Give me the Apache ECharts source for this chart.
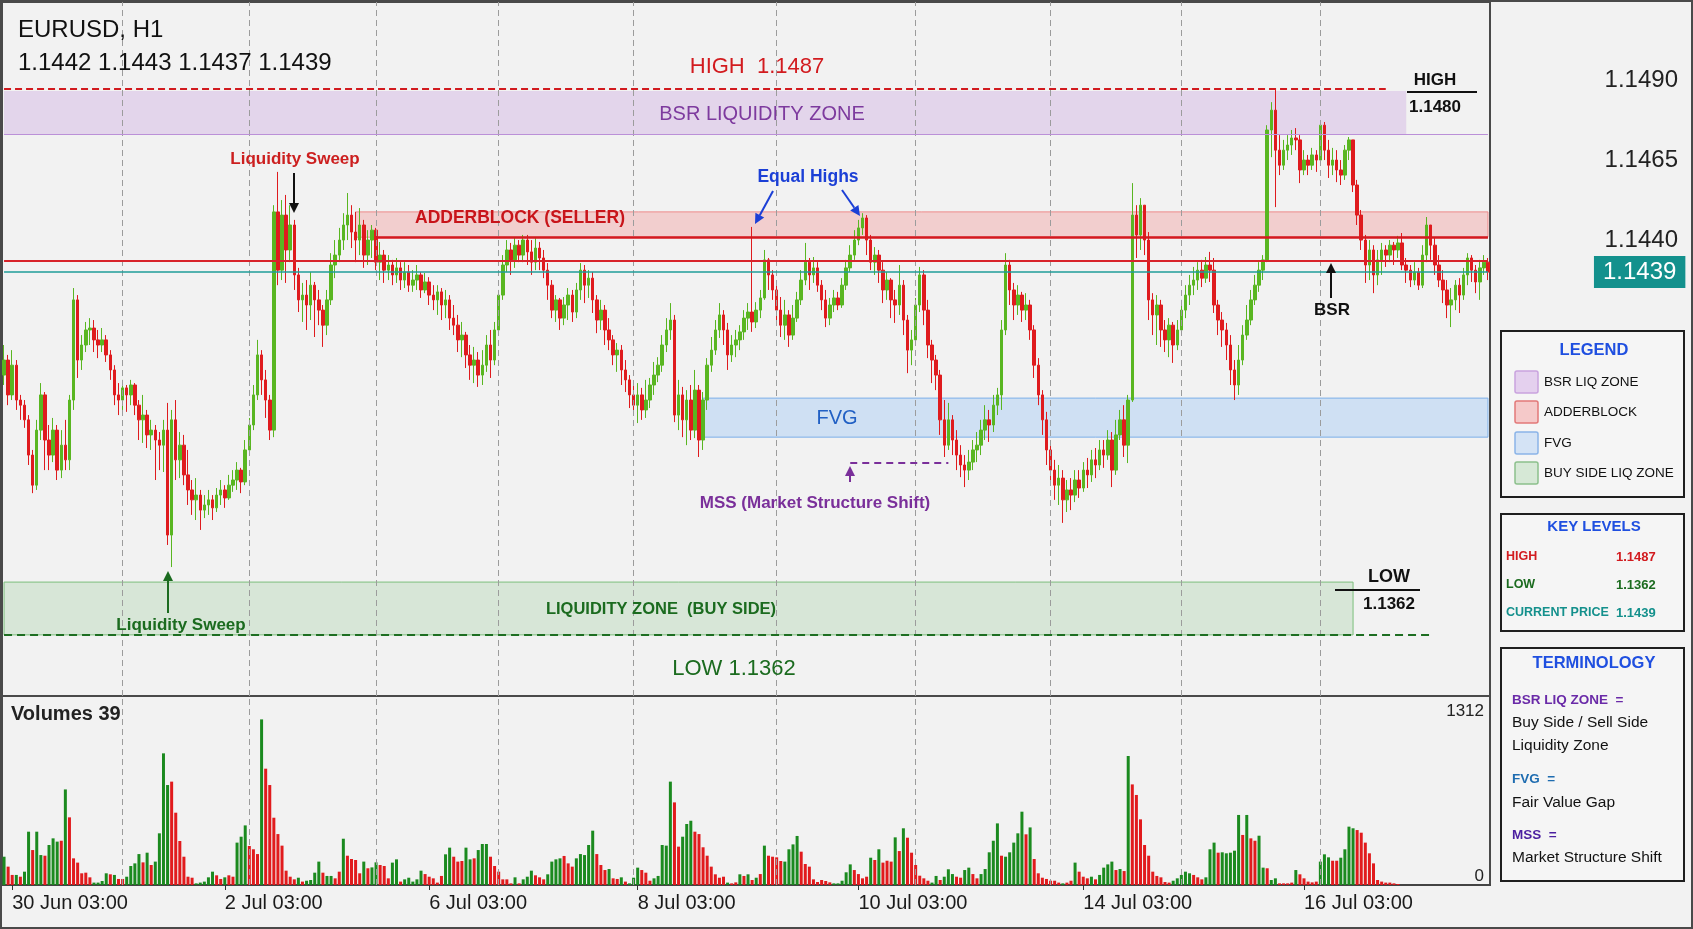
<!DOCTYPE html>
<html>
<head>
<meta charset="utf-8">
<title>EURUSD, H1</title>
<script src="https://cdn.jsdelivr.net/npm/echarts@6/dist/echarts.min.js"></script>
<style>
  html, body { margin: 0; padding: 0; background: #f2f2f2; }
  #chart { width: 1693px; height: 929px; }
</style>
</head>
<body>
<div id="chart"></div>
<script>
// H1 bars (price units), open = previous close
const firstOpen = 1.13978
const closes = [
  1.14025, 1.13916, 1.14009, 1.13900, 1.13884, 1.13838, 1.13728, 1.13634, 1.13806, 1.13916,
  1.13775, 1.13728, 1.13806, 1.13681, 1.13759, 1.13713, 1.13900, 1.14213, 1.14025, 1.14072,
  1.14119, 1.14125, 1.14088, 1.14072, 1.14088, 1.14041, 1.13994, 1.13916, 1.13900, 1.13938,
  1.13916, 1.13947, 1.13884, 1.13838, 1.13853, 1.13791, 1.13806, 1.13775, 1.13759, 1.13806,
  1.13478, 1.13838, 1.13713, 1.13759, 1.13666, 1.13619, 1.13588, 1.13603, 1.13556, 1.13572,
  1.13588, 1.13563, 1.13603, 1.13619, 1.13594, 1.13634, 1.13650, 1.13681, 1.13644, 1.13744,
  1.13822, 1.13916, 1.14041, 1.13963, 1.13900, 1.13806, 1.14488, 1.14306, 1.14478, 1.14369,
  1.14447, 1.14291, 1.14213, 1.14228, 1.14197, 1.14259, 1.14213, 1.14181, 1.14134, 1.14213,
  1.14322, 1.14353, 1.14400, 1.14447, 1.14478, 1.14425, 1.14400, 1.14447, 1.14353, 1.14400,
  1.14431, 1.14331, 1.14353, 1.14306, 1.14322, 1.14291, 1.14313, 1.14275, 1.14300, 1.14259,
  1.14275, 1.14291, 1.14244, 1.14269, 1.14228, 1.14213, 1.14238, 1.14197, 1.14213, 1.14156,
  1.14134, 1.14088, 1.14103, 1.14041, 1.14009, 1.14025, 1.13978, 1.14009, 1.14072, 1.14025,
  1.14119, 1.14228, 1.14322, 1.14369, 1.14338, 1.14384, 1.14353, 1.14400, 1.14363, 1.14331,
  1.14375, 1.14344, 1.14306, 1.14259, 1.14181, 1.14213, 1.14156, 1.14197, 1.14228, 1.14175,
  1.14244, 1.14306, 1.14259, 1.14281, 1.14213, 1.14150, 1.14181, 1.14119, 1.14088, 1.14041,
  1.14056, 1.13994, 1.13963, 1.13916, 1.13884, 1.13916, 1.13869, 1.13900, 1.13947, 1.13978,
  1.14009, 1.14072, 1.14119, 1.14150, 1.13853, 1.13916, 1.13838, 1.13900, 1.13806, 1.13931,
  1.13775, 1.13900, 1.14009, 1.14056, 1.14119, 1.14166, 1.14119, 1.14041, 1.14072, 1.14088,
  1.14113, 1.14156, 1.14175, 1.14144, 1.14181, 1.14219, 1.14338, 1.14291, 1.14244, 1.14181,
  1.14134, 1.14166, 1.14103, 1.14156, 1.14213, 1.14275, 1.14331, 1.14291, 1.14313, 1.14259,
  1.14213, 1.14156, 1.14197, 1.14219, 1.14197, 1.14259, 1.14313, 1.14353, 1.14400, 1.14438,
  1.14469, 1.14400, 1.14331, 1.14353, 1.14306, 1.14244, 1.14275, 1.14213, 1.14197, 1.14259,
  1.14150, 1.14056, 1.14088, 1.14197, 1.14291, 1.14181, 1.14072, 1.14025, 1.13978, 1.13838,
  1.13759, 1.13838, 1.13775, 1.13728, 1.13697, 1.13681, 1.13706, 1.13744, 1.13759, 1.13806,
  1.13838, 1.13822, 1.13884, 1.13916, 1.14119, 1.14322, 1.14244, 1.14197, 1.14228, 1.14181,
  1.14197, 1.14119, 1.14009, 1.13916, 1.13838, 1.13744, 1.13681, 1.13634, 1.13656, 1.13588,
  1.13619, 1.13603, 1.13650, 1.13625, 1.13681, 1.13666, 1.13713, 1.13697, 1.13744, 1.13728,
  1.13775, 1.13681, 1.13791, 1.13838, 1.13759, 1.13900, 1.14478, 1.14416, 1.14509, 1.14400,
  1.14213, 1.14166, 1.14197, 1.14119, 1.14088, 1.14134, 1.14072, 1.14119, 1.14181, 1.14228,
  1.14259, 1.14275, 1.14306, 1.14281, 1.14322, 1.14306, 1.14197, 1.14150, 1.14119, 1.14072,
  1.13994, 1.13947, 1.14025, 1.14103, 1.14150, 1.14213, 1.14259, 1.14306, 1.14338, 1.14744,
  1.14806, 1.14681, 1.14634, 1.14681, 1.14697, 1.14719, 1.14713, 1.14619, 1.14650, 1.14634,
  1.14666, 1.14650, 1.14759, 1.14681, 1.14634, 1.14650, 1.14619, 1.14603, 1.14681, 1.14713,
  1.14572, 1.14478, 1.14400, 1.14322, 1.14369, 1.14291, 1.14338, 1.14369, 1.14353, 1.14384,
  1.14369, 1.14391, 1.14322, 1.14306, 1.14275, 1.14300, 1.14259, 1.14353, 1.14447, 1.14384,
  1.14322, 1.14275, 1.14244, 1.14197, 1.14213, 1.14259, 1.14228, 1.14291, 1.14344, 1.14306,
  1.14269, 1.14313, 1.14331, 1.14300
]
const highs = [
  1.14072, 1.14041, 1.14056, 1.14025, 1.13916, 1.13900, 1.13853, 1.13744, 1.13838, 1.13953,
  1.13925, 1.13822, 1.13844, 1.13822, 1.13806, 1.13838, 1.13916, 1.14250, 1.14228, 1.14103,
  1.14144, 1.14156, 1.14150, 1.14119, 1.14125, 1.14103, 1.14056, 1.14009, 1.13953, 1.13963,
  1.13947, 1.13963, 1.13953, 1.13900, 1.13916, 1.13869, 1.13838, 1.13822, 1.13800, 1.13838,
  1.13891, 1.13869, 1.13900, 1.13800, 1.13791, 1.13744, 1.13650, 1.13656, 1.13619, 1.13603,
  1.13619, 1.13603, 1.13625, 1.13650, 1.13634, 1.13666, 1.13681, 1.13706, 1.13688, 1.13775,
  1.13844, 1.13947, 1.14088, 1.14056, 1.13994, 1.13916, 1.14509, 1.14613, 1.14525, 1.14541,
  1.14509, 1.14463, 1.14313, 1.14266, 1.14275, 1.14300, 1.14269, 1.14244, 1.14197, 1.14244,
  1.14359, 1.14400, 1.14438, 1.14484, 1.14547, 1.14509, 1.14488, 1.14500, 1.14463, 1.14431,
  1.14447, 1.14438, 1.14394, 1.14369, 1.14353, 1.14338, 1.14344, 1.14331, 1.14331, 1.14322,
  1.14306, 1.14322, 1.14300, 1.14297, 1.14284, 1.14259, 1.14259, 1.14250, 1.14244, 1.14228,
  1.14197, 1.14166, 1.14144, 1.14113, 1.14072, 1.14066, 1.14050, 1.14056, 1.14103, 1.14119,
  1.14144, 1.14244, 1.14353, 1.14400, 1.14391, 1.14409, 1.14400, 1.14416, 1.14416, 1.14400,
  1.14406, 1.14394, 1.14369, 1.14328, 1.14275, 1.14228, 1.14219, 1.14222, 1.14250, 1.14244,
  1.14266, 1.14328, 1.14322, 1.14306, 1.14300, 1.14228, 1.14213, 1.14197, 1.14156, 1.14103,
  1.14078, 1.14072, 1.14025, 1.13978, 1.13947, 1.13953, 1.13938, 1.13963, 1.13969, 1.14019,
  1.14034, 1.14103, 1.14156, 1.14203, 1.14166, 1.13963, 1.13941, 1.13931, 1.13947, 1.13994,
  1.13947, 1.13925, 1.14031, 1.14097, 1.14150, 1.14203, 1.14181, 1.14141, 1.14103, 1.14119,
  1.14134, 1.14181, 1.14203, 1.14441, 1.14206, 1.14244, 1.14369, 1.14344, 1.14306, 1.14259,
  1.14222, 1.14213, 1.14181, 1.14197, 1.14238, 1.14306, 1.14391, 1.14344, 1.14347, 1.14331,
  1.14275, 1.14244, 1.14219, 1.14244, 1.14238, 1.14281, 1.14338, 1.14384, 1.14431, 1.14463,
  1.14484, 1.14478, 1.14416, 1.14378, 1.14369, 1.14331, 1.14300, 1.14281, 1.14244, 1.14322,
  1.14275, 1.14166, 1.14119, 1.14219, 1.14316, 1.14306, 1.14213, 1.14088, 1.14041, 1.13994,
  1.13900, 1.13891, 1.13853, 1.13806, 1.13759, 1.13728, 1.13744, 1.13775, 1.13800, 1.13838,
  1.13884, 1.13869, 1.13916, 1.13938, 1.14150, 1.14359, 1.14338, 1.14266, 1.14259, 1.14238,
  1.14234, 1.14213, 1.14134, 1.14031, 1.13931, 1.13863, 1.13759, 1.13713, 1.13697, 1.13681,
  1.13650, 1.13656, 1.13681, 1.13681, 1.13706, 1.13719, 1.13744, 1.13750, 1.13775, 1.13775,
  1.13806, 1.13800, 1.13838, 1.13869, 1.13884, 1.13916, 1.14578, 1.14509, 1.14531, 1.14500,
  1.14425, 1.14234, 1.14228, 1.14213, 1.14150, 1.14156, 1.14144, 1.14150, 1.14213, 1.14259,
  1.14291, 1.14316, 1.14331, 1.14338, 1.14347, 1.14363, 1.14344, 1.14213, 1.14175, 1.14141,
  1.14103, 1.14025, 1.14072, 1.14134, 1.14197, 1.14244, 1.14291, 1.14331, 1.14353, 1.14759,
  1.14831, 1.14869, 1.14728, 1.14713, 1.14728, 1.14744, 1.14750, 1.14728, 1.14681, 1.14666,
  1.14688, 1.14681, 1.14775, 1.14769, 1.14713, 1.14688, 1.14681, 1.14650, 1.14697, 1.14722,
  1.14713, 1.14588, 1.14494, 1.14416, 1.14400, 1.14384, 1.14369, 1.14391, 1.14384, 1.14400,
  1.14394, 1.14413, 1.14422, 1.14344, 1.14322, 1.14331, 1.14313, 1.14384, 1.14472, 1.14438,
  1.14406, 1.14353, 1.14306, 1.14275, 1.14250, 1.14275, 1.14281, 1.14313, 1.14359, 1.14353,
  1.14322, 1.14338, 1.14353, 1.14344
]
const lows = [
  1.13947, 1.13884, 1.13900, 1.13869, 1.13838, 1.13813, 1.13697, 1.13609, 1.13619, 1.13775,
  1.13681, 1.13681, 1.13706, 1.13650, 1.13656, 1.13681, 1.13681, 1.13869, 1.13969, 1.13994,
  1.14050, 1.14072, 1.14050, 1.14031, 1.14050, 1.14019, 1.13963, 1.13884, 1.13853, 1.13869,
  1.13863, 1.13884, 1.13853, 1.13775, 1.13766, 1.13750, 1.13744, 1.13650, 1.13681, 1.13675,
  1.13447, 1.13378, 1.13650, 1.13656, 1.13634, 1.13572, 1.13541, 1.13525, 1.13494, 1.13531,
  1.13541, 1.13525, 1.13550, 1.13572, 1.13563, 1.13588, 1.13613, 1.13619, 1.13609, 1.13634,
  1.13728, 1.13806, 1.13900, 1.13916, 1.13844, 1.13775, 1.13784, 1.14259, 1.14275, 1.14266,
  1.14331, 1.14244, 1.14175, 1.14144, 1.14119, 1.14150, 1.14097, 1.14134, 1.14066, 1.14103,
  1.14197, 1.14281, 1.14331, 1.14369, 1.14400, 1.14375, 1.14331, 1.14353, 1.14313, 1.14322,
  1.14344, 1.14306, 1.14275, 1.14266, 1.14275, 1.14259, 1.14266, 1.14244, 1.14250, 1.14238,
  1.14238, 1.14244, 1.14219, 1.14234, 1.14197, 1.14181, 1.14166, 1.14150, 1.14156, 1.14119,
  1.14103, 1.14050, 1.14034, 1.14000, 1.13963, 1.13953, 1.13941, 1.13947, 1.13988, 1.13969,
  1.14009, 1.14103, 1.14213, 1.14300, 1.14291, 1.14313, 1.14331, 1.14331, 1.14322, 1.14291,
  1.14306, 1.14306, 1.14281, 1.14213, 1.14156, 1.14144, 1.14119, 1.14134, 1.14150, 1.14144,
  1.14156, 1.14213, 1.14203, 1.14219, 1.14172, 1.14109, 1.14119, 1.14072, 1.14056, 1.14009,
  1.13988, 1.13947, 1.13925, 1.13875, 1.13853, 1.13828, 1.13838, 1.13844, 1.13875, 1.13916,
  1.13956, 1.13988, 1.14050, 1.14088, 1.13831, 1.13806, 1.13784, 1.13759, 1.13775, 1.13781,
  1.13722, 1.13744, 1.13869, 1.13988, 1.14041, 1.14094, 1.14072, 1.13994, 1.14019, 1.14034,
  1.14056, 1.14088, 1.14119, 1.14113, 1.14125, 1.14156, 1.14213, 1.14244, 1.14213, 1.14144,
  1.14097, 1.14088, 1.14066, 1.14088, 1.14144, 1.14197, 1.14259, 1.14244, 1.14266, 1.14238,
  1.14181, 1.14128, 1.14134, 1.14175, 1.14181, 1.14188, 1.14244, 1.14300, 1.14338, 1.14384,
  1.14416, 1.14353, 1.14306, 1.14291, 1.14266, 1.14203, 1.14213, 1.14156, 1.14141, 1.14166,
  1.14103, 1.13984, 1.14009, 1.14072, 1.14175, 1.14134, 1.14031, 1.13953, 1.13931, 1.13791,
  1.13722, 1.13744, 1.13728, 1.13681, 1.13659, 1.13628, 1.13650, 1.13681, 1.13706, 1.13728,
  1.13775, 1.13769, 1.13800, 1.13853, 1.13869, 1.14103, 1.14197, 1.14150, 1.14166, 1.14144,
  1.14150, 1.14088, 1.13969, 1.13884, 1.13791, 1.13697, 1.13644, 1.13588, 1.13572, 1.13516,
  1.13550, 1.13556, 1.13581, 1.13594, 1.13613, 1.13625, 1.13644, 1.13656, 1.13681, 1.13688,
  1.13713, 1.13628, 1.13666, 1.13775, 1.13722, 1.13703, 1.13894, 1.14344, 1.14369, 1.14353,
  1.14150, 1.14103, 1.14072, 1.14066, 1.14050, 1.14034, 1.14016, 1.14056, 1.14103, 1.14156,
  1.14197, 1.14228, 1.14244, 1.14253, 1.14266, 1.14269, 1.14172, 1.14103, 1.14066, 1.14025,
  1.13947, 1.13900, 1.13916, 1.14009, 1.14088, 1.14134, 1.14197, 1.14238, 1.14275, 1.14331,
  1.14659, 1.14503, 1.14603, 1.14619, 1.14650, 1.14666, 1.14681, 1.14578, 1.14603, 1.14603,
  1.14619, 1.14613, 1.14634, 1.14650, 1.14594, 1.14603, 1.14581, 1.14572, 1.14588, 1.14650,
  1.14550, 1.14447, 1.14369, 1.14266, 1.14275, 1.14234, 1.14259, 1.14291, 1.14316, 1.14331,
  1.14322, 1.14344, 1.14306, 1.14266, 1.14253, 1.14259, 1.14244, 1.14250, 1.14331, 1.14338,
  1.14291, 1.14253, 1.14203, 1.14156, 1.14128, 1.14181, 1.14172, 1.14213, 1.14259, 1.14269,
  1.14234, 1.14213, 1.14291, 1.14275
]

// tick volumes, and the colour side of each bar (g = up, r = down)
const volumes = [
  225, 146, 80, 80, 66, 106, 424, 278, 424, 238, 233, 318, 371, 345, 352, 760, 538, 212, 178, 93,
  98, 61, 19, 19, 32, 93, 85, 80, 48, 48, 66, 151, 172, 246, 180, 257, 159, 186, 411, 1047,
  795, 822, 575, 350, 225, 66, 58, 13, 19, 27, 61, 106, 77, 48, 61, 77, 66, 337, 384, 474,
  310, 284, 246, 1317, 925, 795, 535, 405, 313, 114, 66, 45, 58, 27, 34, 40, 98, 186, 98, 72,
  72, 53, 106, 368, 233, 207, 199, 93, 186, 133, 140, 180, 159, 151, 53, 178, 204, 27, 45, 58,
  27, 45, 114, 87, 66, 53, 19, 72, 244, 297, 225, 186, 191, 297, 204, 212, 278, 326, 326, 225,
  151, 106, 45, 45, 13, 61, 13, 45, 66, 114, 77, 61, 45, 85, 186, 204, 212, 231, 172, 146,
  212, 246, 238, 318, 432, 246,
  159, 119, 127, 53, 48, 61, 27, 13, 58, 138, 119, 98, 34, 53, 72, 318, 313, 822, 657, 305,
  384, 485, 511, 424, 405, 300, 233, 146, 85, 58, 66, 19, 13, 21, 85, 72, 85, 40, 58, 87,
  313, 233, 225, 220, 191, 186, 284, 323, 390, 265, 167, 146, 45, 24, 40, 32, 21, 13, 13, 34,
  101, 164, 119, 87, 53, 66, 217, 199, 284, 178, 193, 186, 379, 270, 451, 376, 257, 159, 74, 53,
  34, 19, 72, 40, 66, 125, 87, 66, 58, 119, 138, 87, 53, 87, 127, 260, 352, 490, 233, 225,
  260, 337, 411, 583, 403, 458, 207, 93, 58, 48, 34, 34, 19, 13, 19, 34, 178, 106, 66, 53,
  66, 45, 80, 138, 164, 186, 119, 127, 111, 1026, 800, 716, 522, 318,
  233, 106, 72, 61, 24, 19, 34, 53, 80, 106, 93, 80, 61, 45, 61, 284, 337, 257, 260, 252,
  257, 273, 557, 398, 557, 371, 352, 392, 138, 133, 40, 53, 13, 13, 13, 19, 119, 85, 53, 27,
  21, 27, 186, 244, 220, 193, 193, 217, 284, 464, 451, 437, 416, 337, 252, 172, 40, 27, 19, 19,
  13, 8
]
const volumeSide = (
  'grrgrggrgg' + 'rgggrgrrrr' + 'rrggggrgrr' + 'ggggrgrggg' + 'grrrrrrggg' + 'ggrrgrrggg' +
  'rrrgrrrrrr' + 'rrgrggggrg' + 'grrgrrrrgr' + 'ggrrrggrgg' + 'gggrrrrrgg' + 'rrrggrgggr' +
  'rrrrrgrggg' + 'rrrggggrrr' + 'gggggr' +
  'rrgrrgrggg' + 'rrrgggggrr' + 'gggrrrrrrr' + 'rgrrgrgrgr' + 'grrrrggggr' + 'rrrrrrrggg' +
  'ggrrrrgrgr' + 'rrgrgrrrrr' + 'rggrgggrrg' + 'grrgggggrg' + 'ggggrgrrrr' + 'rrrgrrgrrr' +
  'grggggrgrg' + 'rrrr' +
  'rrrrrrgggg' + 'grrrgggrgg' + 'gggrgrrggr' + 'ggrrrrgrrr' + 'rrgggrrggg' + 'grrrrrrrrr' + 'rr'
).split('')

// time axis: bar index of each date label, and of the dashed session separators
const tickIndex = [2, 54, 104, 155, 209, 264, 318]
const tickLabels = ['30 Jun 03:00', '2 Jul 03:00', '6 Jul 03:00', '8 Jul 03:00', '10 Jul 03:00', '14 Jul 03:00', '16 Jul 03:00']
const dayLines = [29, 60, 91, 121, 154, 189, 223, 256, 288, 322]
const priceTicks = [1.149, 1.1465, 1.144]
const volumeTicks = [0, 1312]

// levels and zones [top, bottom], with their bar ranges
const highLevel = 1.14872
const redLevel = 1.14334
const currentLevel = 1.1430
const mssLevel = 1.13703
const lowLevel = 1.13166
const bsrZone = [1.14866, 1.14731]
const adderZone = [1.14488, 1.14409]
const fvgZone = [1.13906, 1.13784]
const buyZone = [1.13331, 1.13166]
const lastBar = closes.length - 1
const highLineEnd = 338, bsrEnd = 343, adderStart = 86, adderLineStart = 91
const fvgStart = 171, mssStart = 207, mssEnd = 231, buyEnd = 330, lowLineEnd = 349

const categories = closes.map((_, i) => i)
const ohlc = closes.map((c, i) => {
  const o = i === 0 ? firstOpen : closes[i - 1]
  return [o, c, Math.min(lows[i], o, c), Math.max(highs[i], o, c)]
})
const volumeData = volumes.map((v, i) => ({
  value: v,
  itemStyle: { color: volumeSide[i] === 'g' ? '#1b8a1f' : '#e11b1d' },
}))

const FONT = '"Liberation Sans", Arial, sans-serif'
function text(str, x, y, color, size, weight, align) {
  const a = align || 'center'
  return {
    type: 'text', z: 100, silent: true,
    style: {
      text: str, x, y, fill: color, font: (weight || 'normal') + ' ' + size + 'px ' + FONT,
      align: a, textAlign: a, verticalAlign: 'middle', textVerticalAlign: 'middle',
    },
  }
}
function seg(x1, y1, x2, y2, color, w) {
  return { type: 'line', z: 100, silent: true, shape: { x1, y1, x2, y2 }, style: { stroke: color, lineWidth: w || 2 } }
}
function arrow(x1, y1, x2, y2, color) {
  const a = Math.atan2(y2 - y1, x2 - x1), h = 10, w = 5
  const bx = x2 - h * Math.cos(a), by = y2 - h * Math.sin(a)
  return [
    seg(x1, y1, bx, by, color, 2),
    {
      type: 'polygon', z: 100, silent: true,
      shape: { points: [[x2, y2], [bx + w * Math.sin(a), by - w * Math.cos(a)], [bx - w * Math.sin(a), by + w * Math.cos(a)]] },
      style: { fill: color },
    },
  ]
}
function box(x, y, w, h) {
  return { type: 'rect', z: 90, silent: true, shape: { x, y, width: w, height: h }, style: { fill: '#f5f5f5', stroke: '#1e1e1e', lineWidth: 2 } }
}
function swatch(y, fill, stroke) {
  return { type: 'rect', z: 100, silent: true, shape: { x: 1515, y: y - 11, width: 23, height: 22, r: 2 }, style: { fill, stroke, lineWidth: 1.5 } }
}
// horizontal level drawn between two bars
function level(from, to, price, style, extra) {
  return [Object.assign({ coord: [from, price], lineStyle: style }, extra || {}), { coord: [to, price] }]
}

const RED = '#d21b1f', GREEN = '#1b6b1f', PURPLE = '#7d3a9e', BLUE = '#1f4fe0'

const graphic = [
  { type: 'rect', z: 80, silent: true, shape: { x: 1, y: 1, width: 1691, height: 927 }, style: { fill: 'none', stroke: '#4a4a4a', lineWidth: 2 } },
  text('EURUSD, H1', 18, 30, '#111', 24, 'normal', 'left'),
  text('1.1442 1.1443 1.1437 1.1439', 18, 63, '#111', 24, 'normal', 'left'),
  text('HIGH  1.1487', 757, 67, RED, 22),
  text('BSR LIQUIDITY ZONE', 762, 114, PURPLE, 20),
  text('Liquidity Sweep', 295, 159, '#cc1f1f', 17, 'bold'),
  ...arrow(294, 173, 294, 213, '#111'),
  text('ADDERBLOCK (SELLER)', 520, 218, '#c8141a', 17.5, 'bold'),
  text('Equal Highs', 808, 177, '#1b3fd6', 17.5, 'bold'),
  ...arrow(773, 191, 755, 224, '#1b3fd6'),
  ...arrow(842, 190, 860, 216, '#1b3fd6'),
  text('FVG', 837, 418, '#2160c4', 20),
  ...arrow(850, 482, 850, 466, '#7a2f9a'),
  text('MSS (Market Structure Shift)', 815, 503, '#7a2f9a', 17, 'bold'),
  text('BSR', 1332, 310, '#111', 17, 'bold'),
  ...arrow(1331, 298, 1331, 263, '#111'),
  text('HIGH', 1435, 80, '#111', 17, 'bold'),
  seg(1407, 92, 1477, 92, '#111', 2),
  text('1.1480', 1435, 107, '#111', 17, 'bold'),
  text('LOW', 1389, 577, '#111', 18, 'bold'),
  seg(1335, 590, 1420, 590, '#111', 2),
  text('1.1362', 1389, 604, '#111', 17, 'bold'),
  text('LIQUIDITY ZONE  (BUY SIDE)', 661, 609, GREEN, 16.5, 'bold'),
  text('LOW 1.1362', 734, 669, GREEN, 22),
  text('Liquidity Sweep', 181, 625, GREEN, 17, 'bold'),
  ...arrow(168, 613, 168, 571, GREEN),
  text('Volumes 39', 11, 714, '#222', 20, 'bold', 'left'),

  // legend panel
  box(1501, 331, 183, 166),
  text('LEGEND', 1594, 350, BLUE, 16.5, 'bold'),
  swatch(382, '#e4d0ee', '#c9a2de'),
  swatch(412, '#f5c9c9', '#e27878'),
  swatch(443, '#d4e3f5', '#8ab4e8'),
  swatch(473, '#d6e8d6', '#8cc08c'),
  text('BSR LIQ ZONE', 1544, 382, '#111', 13.5, 'normal', 'left'),
  text('ADDERBLOCK', 1544, 412, '#111', 13.5, 'normal', 'left'),
  text('FVG', 1544, 443, '#111', 13.5, 'normal', 'left'),
  text('BUY SIDE LIQ ZONE', 1544, 473, '#111', 13.5, 'normal', 'left'),

  // key levels panel
  box(1501, 514, 183, 117),
  text('KEY LEVELS', 1594, 527, BLUE, 15, 'bold'),
  text('HIGH', 1506, 557, RED, 12.5, 'bold', 'left'),
  text('1.1487', 1616, 557, RED, 13, 'bold', 'left'),
  text('LOW', 1506, 585, GREEN, 12.5, 'bold', 'left'),
  text('1.1362', 1616, 585, GREEN, 13, 'bold', 'left'),
  text('CURRENT PRICE', 1506, 613, '#14908c', 12.5, 'bold', 'left'),
  text('1.1439', 1616, 613, '#14908c', 13, 'bold', 'left'),

  // terminology panel
  box(1501, 648, 183, 233),
  text('TERMINOLOGY', 1594, 663, BLUE, 16.5, 'bold'),
  text('BSR LIQ ZONE  =', 1512, 700, '#6a2aa8', 13.5, 'bold', 'left'),
  text('Buy Side / Sell Side', 1512, 723, '#111', 15.5, 'normal', 'left'),
  text('Liquidity Zone', 1512, 746, '#111', 15.5, 'normal', 'left'),
  text('FVG  =', 1512, 779, '#1e6cb0', 13.5, 'bold', 'left'),
  text('Fair Value Gap', 1512, 803, '#111', 15.5, 'normal', 'left'),
  text('MSS  =', 1512, 835, '#4b1fa0', 13.5, 'bold', 'left'),
  text('Market Structure Shift', 1512, 858, '#111', 15.5, 'normal', 'left'),
]

const dashedDay = { color: '#9c9c9c', type: [6, 4], width: 1 }
const dayLineItems = dayLines.map((i) => ({ xAxis: i, lineStyle: dashedDay }))

const option = {
  animation: false,
  backgroundColor: '#f2f2f2',
  textStyle: { fontFamily: FONT },
  grid: [
    { left: 2, top: 2, width: 1488, height: 694, show: true, borderColor: '#4a4a4a', borderWidth: 2 },
    { left: 2, top: 696, width: 1488, height: 189, show: true, borderColor: '#4a4a4a', borderWidth: 2 },
  ],
  xAxis: [
    { type: 'category', gridIndex: 0, data: categories, boundaryGap: true, show: false },
    {
      type: 'category', gridIndex: 1, data: categories, boundaryGap: true,
      axisLine: { show: true, lineStyle: { color: '#444', width: 2 } },
      axisTick: {
        show: true, alignWithLabel: true, length: 5, lineStyle: { color: '#333' },
        interval: (idx) => tickIndex.includes(idx),
      },
      axisLabel: {
        interval: (idx) => tickIndex.includes(idx),
        formatter: (val) => tickLabels[tickIndex.indexOf(Number(val))] || '',
        align: 'left', fontSize: 20, color: '#1a1a1a', margin: 8,
      },
      splitLine: { show: false },
    },
  ],
  yAxis: [
    {
      type: 'value', gridIndex: 0, position: 'right', min: 1.12975, max: 1.15144,
      axisLine: { show: false }, axisTick: { show: false }, splitLine: { show: false },
      axisLabel: {
        customValues: priceTicks, formatter: (v) => v.toFixed(4),
        fontSize: 24, color: '#222', align: 'right', margin: 188,
      },
    },
    {
      type: 'value', gridIndex: 1, position: 'right', min: 0, max: 1503,
      axisLine: { show: false }, axisTick: { show: false }, splitLine: { show: false },
      axisLabel: {
        inside: true, customValues: volumeTicks, formatter: (v) => String(v),
        fontSize: 17, color: '#222', verticalAlign: 'bottom', margin: 6,
      },
    },
  ],
  series: [
    {
      type: 'candlestick',
      name: 'EURUSD',
      xAxisIndex: 0,
      yAxisIndex: 0,
      data: ohlc,
      barWidth: 3,
      itemStyle: {
        color: '#59b621', color0: '#df1b1e',
        borderColor: '#59b621', borderColor0: '#df1b1e', borderWidth: 1,
      },
      markArea: {
        silent: true,
        data: [
          [{ coord: [0, bsrZone[0]], itemStyle: { color: 'rgba(200,160,222,0.36)' } }, { coord: [bsrEnd, bsrZone[1]] }],
          [{ coord: [adderStart, adderZone[0]], itemStyle: { color: 'rgba(240,140,140,0.36)', borderColor: '#ee8a8a', borderWidth: 1 } }, { coord: [lastBar, adderZone[1]] }],
          [{ coord: [fvgStart, fvgZone[0]], itemStyle: { color: 'rgba(160,200,245,0.42)', borderColor: '#7db0ea', borderWidth: 1 } }, { coord: [lastBar, fvgZone[1]] }],
          [{ coord: [0, buyZone[0]], itemStyle: { color: 'rgba(165,208,165,0.36)', borderColor: '#7dbf7d', borderWidth: 1 } }, { coord: [buyEnd, buyZone[1]] }],
        ],
      },
      markLine: {
        silent: true,
        symbol: 'none',
        label: { show: false },
        data: [
          ...dayLineItems,
          level(0, lastBar, bsrZone[1], { color: '#bb90d8', type: 'solid', width: 1 }),
          level(0, highLineEnd, highLevel, { color: '#d21b1f', type: [7, 4], width: 2 }),
          level(adderLineStart, lastBar, adderZone[1], { color: '#d4191f', type: 'solid', width: 2.5 }),
          level(0, lastBar, redLevel, { color: '#d8232a', type: 'solid', width: 2 }),
          level(mssStart, mssEnd, mssLevel, { color: '#7a2f9a', type: [7, 5], width: 2 }),
          level(0, lowLineEnd, lowLevel, { color: '#1e6e22', type: [8, 5], width: 2 }),
          level(0, lastBar, currentLevel, { color: '#1f9c98', type: 'solid', width: 1.5 }, {
            label: {
              show: true, position: 'end', distance: 106, formatter: '1.1439',
              color: '#fff', fontSize: 24, backgroundColor: '#13918d', padding: [4, 9, 4, 9],
            },
          }),
        ],
      },
    },
    {
      type: 'bar',
      name: 'Volumes',
      xAxisIndex: 1,
      yAxisIndex: 1,
      data: volumeData,
      barWidth: 3,
      markLine: {
        silent: true,
        symbol: 'none',
        label: { show: false },
        data: dayLineItems,
      },
    },
  ],
  graphic,
}

const chart = echarts.init(document.getElementById('chart'))
chart.setOption(option)
window.addEventListener('resize', () => chart.resize())
</script>
</body>
</html>
